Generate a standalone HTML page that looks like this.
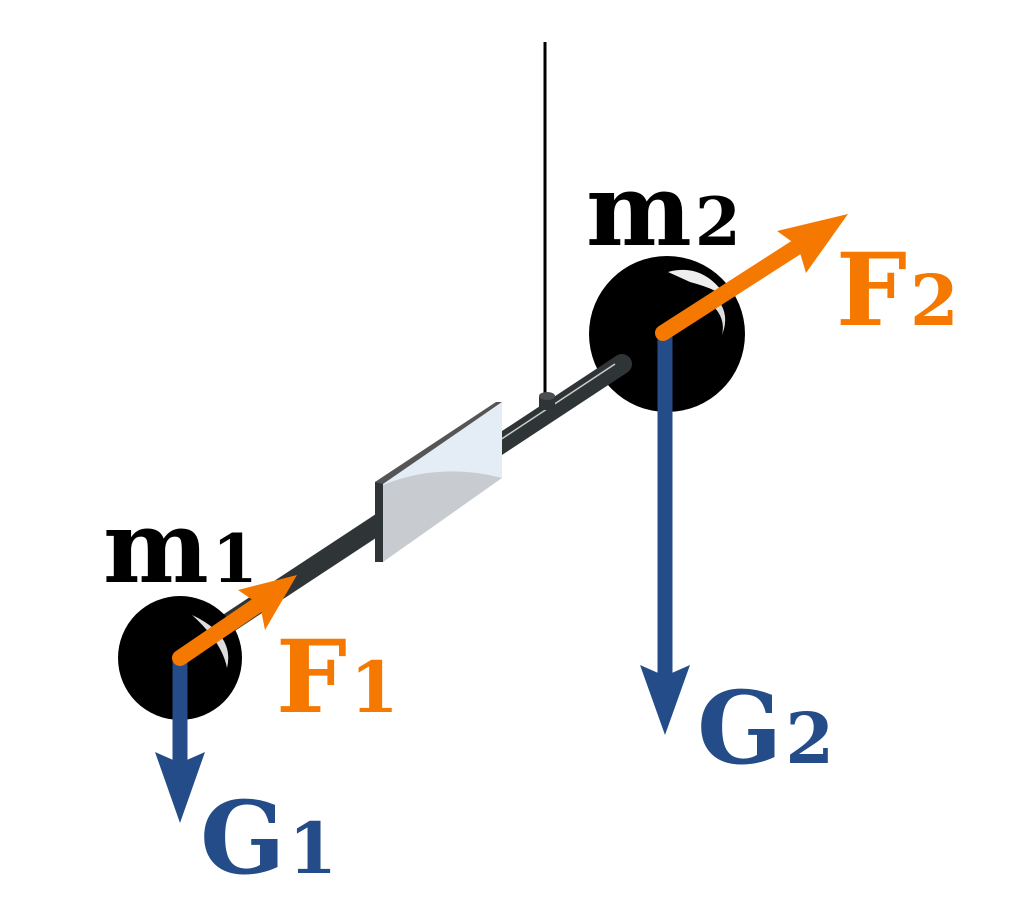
<!DOCTYPE html>
<html><head><style>html,body{margin:0;padding:0;background:#fff}</style></head>
<body>
<svg width="1016" height="904" viewBox="0 0 1016 904" xmlns="http://www.w3.org/2000/svg">
<line x1="545" y1="42" x2="545" y2="398" stroke="#000" stroke-width="3"/>
<circle cx="667" cy="334" r="78" fill="#000"/>
<path d="M668,272 Q705,262 728,300 Q720,290 690,282 Z" fill="#eee"/>
<path d="M718,300 Q730,315 722,335 Q726,318 712,305 Z" fill="#ddd"/>
<line x1="180" y1="655" x2="622" y2="364" stroke="#2f3436" stroke-width="20" stroke-linecap="round"/>
<line x1="500" y1="440" x2="615" y2="364" stroke="#ccc" stroke-width="1.5"/>
<rect x="539" y="396" width="16" height="14" fill="#2f3436"/>
<ellipse cx="547" cy="396" rx="8" ry="4" fill="#4a4f51"/>
<rect x="375" y="482" width="8" height="80" fill="#2f3436"/>
<polygon points="383,482 502,403 502,478 383,562" fill="#c8ccd0"/>
<path d="M383,482 L502,403 L502,478 Q440,462 383,485 Z" fill="#e4ecf5"/>
<polygon points="375,482 496,402 502,402 383,484" fill="#555"/>
<circle cx="180" cy="658" r="62" fill="#000"/>
<path d="M192,615 Q235,635 227,668 Q222,642 192,615 Z" fill="#ddd"/>
<line x1="180" y1="660" x2="180" y2="765" stroke="#234c88" stroke-width="15"/>
<polygon points="155,752 180,763 205,752 180,823" fill="#234c88"/>
<line x1="665" y1="335" x2="665" y2="678" stroke="#234c88" stroke-width="15"/>
<polygon points="640,665 665,676 690,665 665,735" fill="#234c88"/>
<line x1="180" y1="658" x2="262" y2="602" stroke="#f57900" stroke-width="16" stroke-linecap="round"/>
<polygon points="238,590 297,575 265,630 260,605" fill="#f57900"/>
<line x1="663" y1="333" x2="800" y2="245" stroke="#f57900" stroke-width="16" stroke-linecap="round"/>
<polygon points="777,231 848,214 806,273 798,246" fill="#f57900"/>
<g font-family="'DejaVu Serif',serif" font-weight="bold">
<text x="103" y="582" font-size="100" fill="#000">m<tspan font-size="66" dx="3">1</tspan></text>
<text x="586" y="245" font-size="100" fill="#000">m<tspan font-size="66" dx="3">2</tspan></text>
<text x="836" y="325" font-size="100" fill="#f57900">F<tspan font-size="70" dx="3">2</tspan></text>
<text x="276" y="712" font-size="100" fill="#f57900">F<tspan font-size="70" dx="3">1</tspan></text>
<text x="697" y="763" font-size="100" fill="#234c88">G<tspan font-size="70" dx="3">2</tspan></text>
<text x="200" y="873" font-size="100" fill="#234c88">G<tspan font-size="70" dx="3">1</tspan></text>
</g>
</svg>
</body></html>
